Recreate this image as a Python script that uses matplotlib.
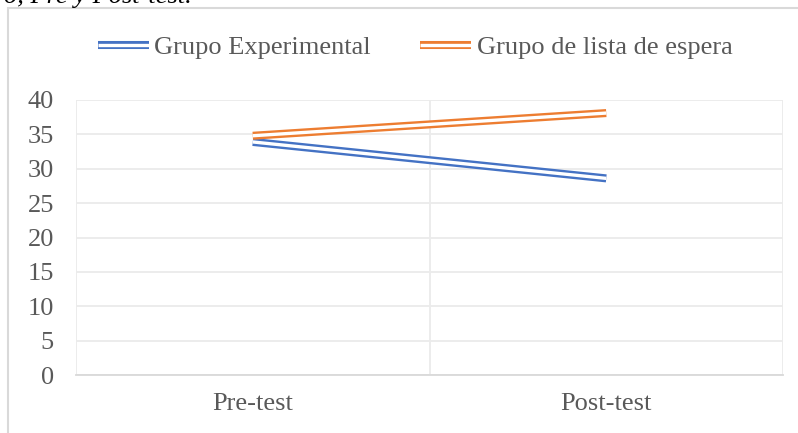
import matplotlib
matplotlib.use("Agg")
import matplotlib.pyplot as plt
import matplotlib.patheffects as pe
from matplotlib.patches import Rectangle

# data
categories = ["Pre-test", "Post-test"]
grupo_experimental = [33.9, 28.6]
grupo_espera = [34.8, 38.1]
yticks = [0, 5, 10, 15, 20, 25, 30, 35, 40]

blue = "#4472C4"
orange = "#ED7D31"
txt = "#595959"
fs = 19

plt.rcParams["font.family"] = ["Liberation Serif", "DejaVu Serif"]

W, H = 798, 433
fig = plt.figure(figsize=(W / 100, H / 100), dpi=100)

# outer chart frame (runs off the right and bottom of the crop)
fig.patches.append(Rectangle((8 / W, -0.2), 1.2, 1.2 - 8 / H,
                             transform=fig.transFigure, fill=False,
                             edgecolor="#D9D9D9", linewidth=1.5))

# tail of the document caption, cut by the top edge as in the original
fig.text(4 / W, 1 - 3 / H, "o, Pre y Post-test.", fontsize=fs,
         style="italic", va="baseline", ha="left", color="black")

ax = fig.add_axes([76 / W, (H - 375) / H, (783 - 76) / W, (375 - 100) / H])

def double_line(y, color, label):
    # compound "double" line: wide coloured stroke with a white core
    ax.plot(range(len(categories)), y, color=color, linewidth=5.8,
            solid_capstyle="butt", label=label,
            path_effects=[pe.Stroke(linewidth=5.8, foreground=color),
                          pe.Stroke(linewidth=2.4, foreground="white")])

double_line(grupo_experimental, blue, "Grupo Experimental")
double_line(grupo_espera, orange, "Grupo de lista de espera")

ax.set_xlim(-0.5, len(categories) - 0.5)
ax.set_ylim(0, 40)
ax.set_yticks(yticks)
ax.set_xticks(range(len(categories)))
ax.set_xticklabels(categories)
ax.set_xticks([i - 0.5 for i in range(len(categories) + 1)], minor=True)

ax.grid(axis="y", color="#EBEBEB", linewidth=1.3)
ax.grid(axis="x", which="minor", color="#EBEBEB", linewidth=1.3)
ax.set_axisbelow(True)
for s in ["top", "right", "left"]:
    ax.spines[s].set_visible(False)
ax.spines["bottom"].set_color("#D9D9D9")
ax.spines["bottom"].set_linewidth(1.3)

ax.tick_params(axis="both", which="both", length=0, labelsize=fs, colors=txt)
ax.tick_params(axis="y", pad=16)
ax.tick_params(axis="x", pad=13)

fig.legend(loc="center", bbox_to_anchor=(415 / W, 1 - 47 / H), ncol=2,
           frameon=False, fontsize=fs, labelcolor=txt,
           handlelength=1.95, handletextpad=0.2, columnspacing=1.85)

fig.savefig("out.png", dpi=100)
